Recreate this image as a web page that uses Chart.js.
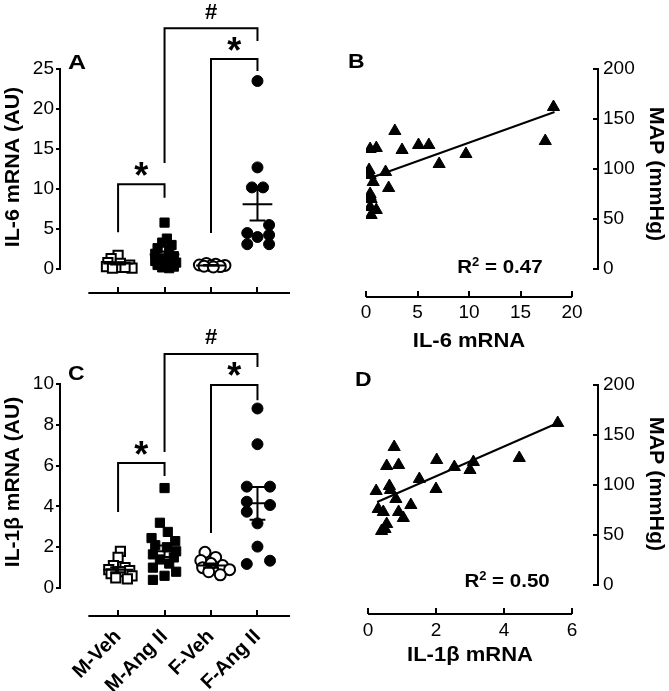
<!DOCTYPE html>
<html>
<head>
<meta charset="utf-8">
<script src="https://cdn.jsdelivr.net/npm/chart.js@4.4.0/dist/chart.umd.min.js"></script>
<style>
  html, body { margin: 0; padding: 0; background: #fff; }
  #wrap { position: relative; width: 669px; height: 691px; }
  #wrap canvas { position: absolute; left: 0; top: 0; }
</style>
</head>
<body>
<div id="wrap">
  <canvas id="cA" width="669" height="691"></canvas>
  <canvas id="cB" width="669" height="691"></canvas>
  <canvas id="cC" width="669" height="691"></canvas>
  <canvas id="cD" width="669" height="691"></canvas>
</div>
<script>
// groups
const groups = ['M-Veh', 'M-Ang II', 'F-Veh', 'F-Ang II'];

// panel A - IL-6 mRNA (AU)
const il6MVeh = [1.7, 1.3, 0.8, 0.7, 0.5, 0.3, 0.2, 0.1, 0.1, 0.2];
const il6MAng = [5.8, 3.8, 3.3, 3.0, 2.6, 2.2, 1.9, 1.6, 1.3, 1.0, 0.8, 0.6, 0.5, 0.3, 0.2, 0.1];
const il6FVeh = [0.7, 0.6, 0.5, 0.45, 0.4, 0.35, 0.3, 0.25];
const il6FAng = [23.5, 12.7, 10.2, 10.2, 5.5, 4.5, 4.25, 4.0, 3.1, 3.1];
const il6Mean = [0.7, 1.8, 0.45, 8.1];
const il6Sem = [0.15, 0.4, 0.05, 2.05];

// panel C - IL-1b mRNA (AU)
const il1bMVeh = [1.8, 1.5, 1.1, 1.0, 0.9, 0.85, 0.8, 0.7, 0.6, 0.5, 0.45];
const il1bMAng = [4.9, 3.2, 2.75, 2.45, 2.3, 2.1, 2.0, 1.8, 1.65, 1.5, 1.4, 1.2, 1.0, 0.8, 0.6, 0.4];
const il1bFVeh = [1.75, 1.5, 1.35, 1.2, 1.1, 1.0, 0.9, 0.8, 0.65];
const il1bFAng = [8.8, 7.05, 4.97, 4.97, 4.23, 4.07, 3.74, 3.17, 2.03, 1.18, 1.34];
const il1bMean = [0.9, 1.8, 1.1, 4.15];
const il1bSem = [0.12, 0.28, 0.1, 0.8];

// panel B - MAP vs IL-6
const il6X = [18.2, 17.4, 2.8, 5.1, 6.1, 3.5, 0.4, 1.0, 9.7, 7.1, 1.9, 0.3, 0.4, 0.7, 2.2, 0.4, 0.5, 0.4, 1.0, 0.5, 0.4];
const mapB = [162, 128, 138, 124, 124, 119, 120, 121, 115, 105, 97, 99, 94, 87, 81, 75, 70, 62, 59, 54, 73];
const fitBX = [0.3, 18.3];
const fitBY = [90.5, 157];
const r2B = '0.47';

// panel D - MAP vs IL-1b
const il1bX = [5.58, 4.45, 0.77, 2.02, 2.54, 3.1, 3.0, 0.55, 0.9, 1.51, 0.63, 0.24, 0.66, 2.0, 0.82, 1.26, 0.3, 0.45, 0.9, 1.04, 0.55, 0.5, 0.4];
const mapD = [162, 127, 138, 125, 118, 123, 115, 119, 120, 106, 99, 94, 95, 96, 86, 80, 76, 73, 73, 67, 61, 56, 54];
const fitDX = [0.27, 5.58];
const fitDY = [83, 162];
const r2D = '0.50';

// tick labels
const il6Ticks = [0, 5, 10, 15, 20, 25];
const il1bTicks = [0, 2, 4, 6, 8, 10];
const mapTicks = [0, 50, 100, 150, 200];
const il6XTicks = [0, 5, 10, 15, 20];
const il1bXTicks = [0, 2, 4, 6];

// horizontal scatter of the dots inside each group (layout only)
const jitterA = [
  [0.0, -0.15, -0.22, 0.05, 0.25, -0.25, 0.0, 0.3, -0.12, 0.15],
  [0, 0.05, -0.05, 0.15, -0.15, 0.1, -0.2, 0.2, 0, -0.2, 0.25, 0.05, -0.15, 0.2, -0.05, 0.1],
  [-0.1, 0.1, -0.25, 0.3, 0.0, -0.15, 0.2, 0.05],
  [0, 0, -0.12, 0.12, 0.25, -0.22, 0.25, 0, -0.22, 0.25]
];
const jitterC = [
  [0.05, 0.0, -0.1, 0.15, -0.2, 0.25, 0.05, -0.15, 0.3, -0.05, 0.2],
  [0, -0.1, 0.07, -0.28, 0.23, -0.2, 0.05, 0.25, -0.25, 0.2, -0.1, 0.1, -0.25, 0.25, 0.0, -0.25],
  [-0.13, 0.1, -0.22, 0.0, 0.25, -0.18, 0.4, -0.05, 0.2],
  [0, 0, -0.23, 0.27, -0.23, 0.27, -0.23, 0, 0, -0.23, 0.27]
];

const FONT = "'Liberation Sans', Arial, Helvetica, sans-serif";
Chart.defaults.font.family = FONT;
Chart.defaults.color = '#000';

const markers = [
  { pointStyle: 'rect', pointRadius: 6.5, backgroundColor: '#fff', pointBorderWidth: 2 },
  { pointStyle: 'rect', pointRadius: 6.5, backgroundColor: '#000', pointBorderWidth: 1 },
  { pointStyle: 'circle', pointRadius: 5.5, backgroundColor: '#fff', pointBorderWidth: 2 },
  { pointStyle: 'circle', pointRadius: 5.5, backgroundColor: '#000', pointBorderWidth: 1 }
];

function groupSets(sets, jitter, mean, sem) {
  const out = sets.map((vals, i) => Object.assign({
    data: vals.map((v, j) => ({ x: i + 1 + jitter[i][j], y: v })),
    borderColor: '#000',
    order: 1
  }, markers[i]));
  // mean +/- SEM
  const seg = [];
  mean.forEach((m, i) => {
    const c = i + 1, s = sem[i];
    seg.push({ x: c - 0.32, y: m }, { x: c + 0.32, y: m }, { x: c, y: null },
             { x: c, y: m - s }, { x: c, y: m + s }, { x: c, y: null },
             { x: c - 0.17, y: m - s }, { x: c + 0.17, y: m - s }, { x: c, y: null },
             { x: c - 0.17, y: m + s }, { x: c + 0.17, y: m + s }, { x: c, y: null });
  });
  out.push({ data: seg, showLine: true, spanGaps: false, borderColor: '#000', borderWidth: 2, pointRadius: 0, order: 0 });
  return out;
}

function fixTicks(list) { return s => { s.ticks = list.map(v => ({ value: v })); }; }

function scaleOpts(o) {
  const ticks = { display: o.labels !== false, padding: o.pad || 0, font: o.font || { size: 19 }, color: '#000',
                  maxRotation: o.rot || 0, minRotation: o.rot || 0, autoSkip: false };
  if (o.cb) ticks.callback = o.cb;
  return {
    type: 'linear', position: o.position, min: o.min, max: o.max,
    afterBuildTicks: fixTicks(o.ticks),
    afterFit: s => { if (o.position === 'bottom') s.height = o.size; else s.width = o.size; },
    border: { display: false },
    grid: { display: true, drawOnChartArea: false, drawTicks: true, tickLength: o.tick, color: '#000', lineWidth: 2 },
    ticks: ticks
  };
}

function write(ctx, t) {
  ctx.save();
  ctx.translate(t.x, t.y);
  if (t.rot) ctx.rotate(t.rot);
  ctx.scale(t.sx || 1, 1);
  ctx.font = t.font;
  ctx.fillStyle = '#000';
  ctx.textAlign = t.align || 'center';
  ctx.textBaseline = t.base || 'alphabetic';
  ctx.fillText(t.s, 0, 0);
  ctx.restore();
}

function writeR2(ctx, val, cx, baseY) {
  const big = 'bold 19px ' + FONT, small = 'bold 12px ' + FONT, sx = 1.08;
  ctx.save();
  ctx.font = big; const wR = ctx.measureText('R').width, wRest = ctx.measureText(' = ' + val).width;
  ctx.font = small; const w2 = ctx.measureText('2').width;
  const total = (wR + w2 + wRest) * sx;
  ctx.translate(cx - total / 2, baseY);
  ctx.scale(sx, 1);
  ctx.fillStyle = '#000'; ctx.textAlign = 'left'; ctx.textBaseline = 'alphabetic';
  ctx.font = big; ctx.fillText('R', 0, 0);
  ctx.font = small; ctx.fillText('2', wR, -7);
  ctx.font = big; ctx.fillText(' = ' + val, wR + w2, 0);
  ctx.restore();
}

const decor = {
  id: 'decor',
  afterDraw(chart, args, o) {
    const ctx = chart.ctx, xs = chart.scales.x, ys = chart.scales.y, a = chart.chartArea;
    ctx.save();
    ctx.strokeStyle = '#000';
    ctx.lineWidth = 2;
    ctx.beginPath();
    const yx = o.yRight ? a.right : a.left;
    ctx.moveTo(yx, ys.getPixelForValue(o.yLine[0]) + 1);
    ctx.lineTo(yx, ys.getPixelForValue(o.yLine[1]) - 1);
    ctx.moveTo(xs.getPixelForValue(o.xLine[0]), a.bottom);
    ctx.lineTo(xs.getPixelForValue(o.xLine[1]), a.bottom);
    ctx.stroke();
    (o.brackets || []).forEach(b => {
      const x1 = xs.getPixelForValue(b.from), x2 = xs.getPixelForValue(b.to), yt = ys.getPixelForValue(b.top);
      ctx.beginPath();
      ctx.moveTo(x1, ys.getPixelForValue(b.left));
      ctx.lineTo(x1, yt);
      ctx.lineTo(x2, yt);
      ctx.lineTo(x2, ys.getPixelForValue(b.right));
      ctx.stroke();
      const cy = ys.getPixelForValue(b.markAt), cx = (x1 + x2) / 2;
      if (b.mark === '*') write(ctx, { s: '*', x: cx, y: cy + 20, font: 'bold 36px ' + FONT });
      else write(ctx, { s: b.mark, x: cx, y: cy + 8, font: 'bold 22px ' + FONT });
    });
    (o.texts || []).forEach(t => write(ctx, t));
    if (o.r2) writeR2(ctx, o.r2.val, xs.getPixelForValue(o.r2.x), ys.getPixelForValue(o.r2.y));
    ctx.restore();
  }
};

const ROT = 'bold 20px ' + FONT;
const LETTER = 'bold 20px ' + FONT;

function baseOptions(padding, scales, decorOpts) {
  return {
    responsive: false,
    animation: false,
    events: [],
    layout: { padding: padding },
    plugins: { legend: { display: false }, tooltip: { enabled: false }, decor: decorOpts },
    scales: scales
  };
}

// A
new Chart(document.getElementById('cA'), {
  type: 'scatter',
  data: { datasets: groupSets([il6MVeh, il6MAng, il6FVeh, il6FAng], jitterA, il6Mean, il6Sem) },
  options: baseOptions({ left: 0, right: 379, top: 69, bottom: 358 }, {
    x: scaleOpts({ position: 'bottom', min: -0.25, max: 4.7, ticks: [1, 2, 3, 4], size: 40, tick: -6, labels: false }),
    y: scaleOpts({ position: 'left', min: -3, max: 25, ticks: il6Ticks, size: 60, tick: 4, pad: 2 })
  }, {
    yLine: [0, 25], xLine: [0.36, 4.7],
    brackets: [
      { from: 1, to: 2, top: 10.6, left: 4.6, right: 8.9, mark: '*', markAt: 12.6 },
      { from: 2, to: 4, top: 30.1, left: 13.25, right: 28.5, mark: '#', markAt: 32.3 },
      { from: 3, to: 4, top: 26.25, left: 4.5, right: 24.75, mark: '*', markAt: 28.25 }
    ],
    texts: [
      { s: 'A', x: 68, y: 69, font: LETTER, align: 'left', sx: 1.25 },
      { s: 'IL-6 mRNA (AU)', x: 19, y: 167, font: ROT, rot: -Math.PI / 2, sx: 1.07 }
    ]
  }),
  plugins: [decor]
});

// C
new Chart(document.getElementById('cC'), {
  type: 'scatter',
  data: { datasets: groupSets([il1bMVeh, il1bMAng, il1bFVeh, il1bFAng], jitterC, il1bMean, il1bSem) },
  options: baseOptions({ left: 0, right: 379, top: 384, bottom: 0 }, {
    x: scaleOpts({ position: 'bottom', min: -0.25, max: 4.7, ticks: [1, 2, 3, 4], size: 75, tick: -6, pad: 15, rot: 45,
                   font: { size: 20, weight: 'bold' }, cb: v => groups[v - 1] }),
    y: scaleOpts({ position: 'left', min: -1.37, max: 10, ticks: il1bTicks, size: 60, tick: 4, pad: 2 })
  }, {
    yLine: [0, 10], xLine: [0.36, 4.7],
    brackets: [
      { from: 1, to: 2, top: 6.13, left: 3.73, right: 5.49, mark: '*', markAt: 6.9 },
      { from: 2, to: 4, top: 11.47, left: 6.67, right: 10.83, mark: '#', markAt: 12.35 },
      { from: 3, to: 4, top: 9.95, left: 2.7, right: 9.2, mark: '*', markAt: 10.78 }
    ],
    texts: [
      { s: 'C', x: 68, y: 380, font: LETTER, align: 'left', sx: 1.15 },
      { s: 'IL-1\u03b2 mRNA (AU)', x: 19, y: 482, font: ROT, rot: -Math.PI / 2, sx: 1.05 }
    ]
  }),
  plugins: [decor]
});

function corrSets(xv, yv, fx, fy) {
  return [
    { data: xv.map((x, i) => ({ x: x, y: yv[i] })), pointStyle: 'triangle', pointRadius: 7,
      backgroundColor: '#000', borderColor: '#000', pointBorderWidth: 1, order: 1 },
    { data: fx.map((x, i) => ({ x: x, y: fy[i] })), showLine: true, borderColor: '#000', borderWidth: 2,
      pointRadius: 0, order: 0 }
  ];
}

// B
new Chart(document.getElementById('cB'), {
  type: 'scatter',
  data: { datasets: corrSets(il6X, mapB, fitBX, fitBY) },
  options: baseOptions({ left: 366, right: 0, top: 69, bottom: 354 }, {
    x: scaleOpts({ position: 'bottom', min: 0, max: 22.52, ticks: il6XTicks, size: 40, tick: -6, pad: 10 }),
    y: scaleOpts({ position: 'right', min: -28, max: 200, ticks: mapTicks, size: 71, tick: -5, pad: 10 })
  }, {
    yRight: true, yLine: [0, 200], xLine: [0, 20],
    r2: { val: r2B, x: 13.0, y: -4 },
    texts: [
      { s: 'B', x: 348, y: 68, font: LETTER, align: 'left', sx: 1.15 },
      { s: 'IL-6 mRNA', x: 469, y: 347, font: 'bold 20px ' + FONT, sx: 1.1 },
      { s: 'MAP (mmHg)', x: 650, y: 174, font: ROT, rot: Math.PI / 2, sx: 1.07 }
    ]
  }),
  plugins: [decor]
});

// D
new Chart(document.getElementById('cD'), {
  type: 'scatter',
  data: { datasets: corrSets(il1bX, mapD, fitDX, fitDY) },
  options: baseOptions({ left: 368, right: 0, top: 385, bottom: 37 }, {
    x: scaleOpts({ position: 'bottom', min: 0, max: 6.765, ticks: il1bXTicks, size: 40, tick: -6, pad: 11 }),
    y: scaleOpts({ position: 'right', min: -29, max: 200, ticks: mapTicks, size: 71, tick: -5, pad: 10 })
  }, {
    yRight: true, yLine: [0, 200], xLine: [0, 6],
    r2: { val: r2D, x: 4.09, y: -2 },
    texts: [
      { s: 'D', x: 355, y: 386, font: LETTER, align: 'left', sx: 1.15 },
      { s: 'IL-1\u03b2 mRNA', x: 470, y: 661, font: 'bold 20px ' + FONT, sx: 1.1 },
      { s: 'MAP (mmHg)', x: 650, y: 484, font: ROT, rot: Math.PI / 2, sx: 1.07 }
    ]
  }),
  plugins: [decor]
});
</script>
</body>
</html>
